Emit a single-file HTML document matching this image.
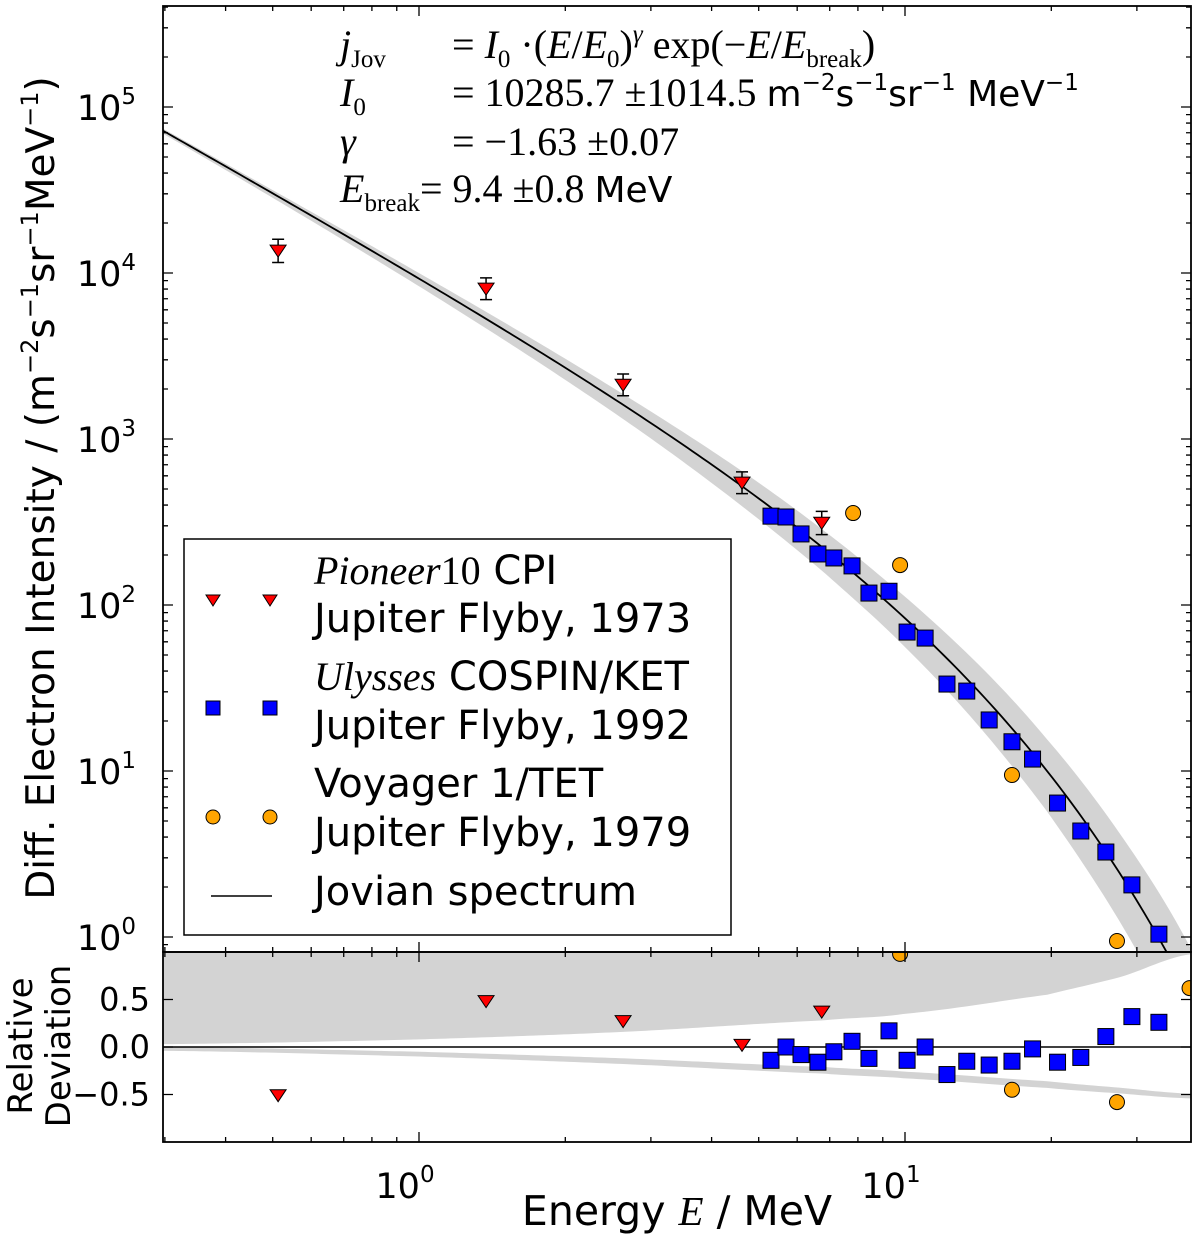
<!DOCTYPE html>
<html><head><meta charset="utf-8"><style>
body{margin:0;background:#fff;}
svg text{font-family:"DejaVu Sans","Liberation Sans",sans-serif;fill:#000;}
.m{font-family:"Liberation Serif","DejaVu Serif",serif;}
</style></head><body>
<svg id="chart" width="1200" height="1246" viewBox="0 0 1200 1246" xmlns="http://www.w3.org/2000/svg">
<defs>
<clipPath id="cm"><rect x="163" y="6" width="1028" height="946"/></clipPath>
<clipPath id="cb"><rect x="163" y="952" width="1028" height="190"/></clipPath>
</defs>
<g id="bandMain" clip-path="url(#cm)"></g>
<g id="bandRel" clip-path="url(#cb)"></g>
<g id="curveG" clip-path="url(#cm)"></g>
<g id="pointsMain" clip-path="url(#cm)"></g>
<g id="pointsRel" clip-path="url(#cb)"></g>
<g id="axes"></g>
<g font-size="40">
<text class="m" x="340" y="58"><tspan font-style="italic">j</tspan><tspan font-size="25" dy="9">Jov</tspan><tspan x="452" dy="-9">= </tspan><tspan font-style="italic">I</tspan><tspan font-size="25" dy="9">0</tspan><tspan dy="-9"> ·(</tspan><tspan font-style="italic">E</tspan>/<tspan font-style="italic">E</tspan><tspan font-size="25" dy="9">0</tspan><tspan dy="-9">)</tspan><tspan font-size="25" font-style="italic" dy="-16">γ</tspan><tspan dy="16"> exp(−</tspan><tspan font-style="italic">E</tspan>/<tspan font-style="italic">E</tspan><tspan font-size="25" dy="9">break</tspan><tspan dy="-9">)</tspan></text>
<text x="340" y="106"><tspan class="m" font-style="italic">I</tspan><tspan class="m" font-size="25" dy="9">0</tspan><tspan class="m" x="452" dy="-9">= 10285.7 ±1014.5 </tspan><tspan font-size="36">m</tspan><tspan font-size="23" dy="-16">−2</tspan><tspan font-size="36" dy="16">s</tspan><tspan font-size="23" dy="-16">−1</tspan><tspan font-size="36" dy="16">sr</tspan><tspan font-size="23" dy="-16">−1</tspan><tspan font-size="36" dy="16"> MeV</tspan><tspan font-size="23" dy="-16">−1</tspan></text>
<text class="m" x="340" y="155"><tspan font-style="italic">γ</tspan><tspan x="452">= −1.63 ±0.07</tspan></text>
<text x="340" y="202"><tspan class="m" font-style="italic">E</tspan><tspan class="m" font-size="25" dy="9">break</tspan><tspan class="m" dy="-9">= 9.4 ±0.8 </tspan><tspan font-size="36">MeV</tspan></text>
</g>
<g>
<rect x="184" y="539" width="547" height="396" fill="#fff" stroke="#000" stroke-width="1.5"/>
<g>
<path d="M206,595 L220,595 L213,606 Z M263,595 L277,595 L270,606 Z" fill="#f00" stroke="#000" stroke-width="1"/>
<text x="314" y="584" font-size="40"><tspan class="m" font-style="italic">Pioneer</tspan><tspan class="m">10</tspan> CPI</text>
<text x="314" y="632" font-size="40">Jupiter Flyby, 1973</text></g>
<g>
<rect x="206" y="701" width="14" height="14" fill="#00f" stroke="#000"/><rect x="263" y="701" width="14" height="14" fill="#00f" stroke="#000"/>
<text x="314" y="690" font-size="40"><tspan class="m" font-style="italic">Ulysses</tspan> COSPIN/KET</text>
<text x="314" y="739" font-size="40">Jupiter Flyby, 1992</text></g>
<g>
<circle cx="213" cy="817" r="7" fill="#ffa500" stroke="#000"/><circle cx="270" cy="817" r="7" fill="#ffa500" stroke="#000"/>
<text x="314" y="797" font-size="40">Voyager 1/TET</text>
<text x="314" y="846" font-size="40">Jupiter Flyby, 1979</text></g>
<g>
<line x1="211" y1="896" x2="272" y2="896" stroke="#000" stroke-width="1.5"/>
<text x="314" y="905" font-size="40">Jovian spectrum</text></g>
</g>
<text transform="translate(54,488) rotate(-90)" text-anchor="middle" font-size="39">Diff. Electron Intensity / (m<tspan font-size="24" dy="-16">−2</tspan><tspan dy="16">s</tspan><tspan font-size="24" dy="-16">−1</tspan><tspan dy="16">sr</tspan><tspan font-size="24" dy="-16">−1</tspan><tspan dy="16">MeV</tspan><tspan font-size="24" dy="-16">−1</tspan><tspan dy="16">)</tspan></text>
<text transform="translate(32,1046) rotate(-90)" text-anchor="middle" font-size="34">Relative</text>
<text transform="translate(70,1046) rotate(-90)" text-anchor="middle" font-size="34">Deviation</text>
<text x="677" y="1225" text-anchor="middle" font-size="41">Energy <tspan class="m" font-style="italic">E</tspan> / MeV</text>
</svg>
<script>
// ---- data ----
const I0 = 10285.7, gammaIdx = -1.63, Ebreak = 9.4;
const pioneerE = [0.513, 1.374, 2.63, 4.62, 6.74];
const pioneerJ = [13770, 8130, 2143, 551, 316];
const pioneerErr = [0.16, 0.15, 0.15, 0.15, 0.16];
const pioneerRel = [-0.5, 0.49, 0.28, 0.03, 0.38];
const ulyssesE = [5.30,5.69,6.11,6.62,7.14,7.78,8.43,9.27,10.1,11.0,12.2,13.4,14.9,16.6,18.3,20.6,23.0,25.9,29.3,33.3];
const ulyssesJ = [343,339,268,203,192,172,118,121,68.7,63.2,33.4,30.3,20.3,15.0,11.8,6.41,4.35,3.25,2.06,1.04];
const ulyssesRel = [-0.14,0,-0.08,-0.16,-0.05,0.06,-0.12,0.17,-0.14,0.0,-0.29,-0.15,-0.19,-0.15,-0.02,-0.16,-0.11,0.11,0.32,0.26];
const voyagerE = [7.82, 9.77, 16.6, 27.3, 38.5];
const voyagerJ = [358, 174, 9.46, 0.946, 0.55];
const voyagerRel = [2.0, 0.98, -0.45, -0.58, 0.62];
const bandE = [0.3, 1, 2.65, 6.8, 10, 19.6, 27.9, 38];
const bandUpper = [0.03, 0.08, 0.16, 0.28, 0.35, 0.55, 0.74, 0.97];
const bandLowerA = [-0.0, -0.05, -0.12, -0.21, -0.26, -0.36, -0.43, -0.49];
const bandLowerB = [-0.04, -0.10, -0.18, -0.28, -0.33, -0.43, -0.49, -0.54];
const xTicks = [1, 10];
const xTickLabels = ["0", "1"];
const yTicks = [1, 10, 100, 1000, 10000, 100000];
const yTickLabels = ["0","1","2","3","4","5"];
const relTicks = [0.5, 0.0, -0.5];
const relTickLabels = ["0.5", "0.0", "−0.5"];
// ---- scales ----
const XL=163, XR=1191, X0=419, XD=486;
const xs = e => X0 + XD*Math.log10(e);
const ys = v => 107 + 166*(5 - Math.log10(v));
const rs = r => 1047 - 95*r;
const model = e => I0*Math.pow(e, gammaIdx)*Math.exp(-e/Ebreak);
const NS="http://www.w3.org/2000/svg";
function mk(tag, attrs, parent){const el=document.createElementNS(NS,tag);for(const k in attrs)el.setAttribute(k,attrs[k]);parent.appendChild(el);return el;}
// smooth interpolation (monotone cubic-ish via Catmull-Rom in log E)
function interp(arr, e){const l=Math.log10(e);const n=bandE.length;let i=0;while(i<n-2&&l>Math.log10(bandE[i+1]))i++;
 const a=Math.log10(bandE[i]),b=Math.log10(bandE[i+1]);const t=(l-a)/(b-a);
 const p0=arr[Math.max(i-1,0)],p1=arr[i],p2=arr[i+1],p3=arr[Math.min(i+2,n-1)];
 const t2=t*t,t3=t2*t;return 0.5*((2*p1)+(-p0+p2)*t+(2*p0-5*p1+4*p2-p3)*t2+(-p0+3*p1-3*p2+p3)*t3);}
const Emin=Math.pow(10,(XL-X0)/XD), Emax=Math.pow(10,(XR-X0)/XD);
const grid=[];for(let i=0;i<=200;i++)grid.push(Emin*Math.pow(Emax/Emin,i/200));
// band main
let up=grid.map(e=>xs(e)+','+ys(model(e)*(1+interp(bandUpper,e))));
let lo=grid.slice().reverse().map(e=>xs(e)+','+ys(model(e)*(1+interp(bandLowerB,e))));
let p=mk('polygon',{points:up.concat(lo).join(' '),fill:'#d3d3d3'},document.getElementById('bandMain'));


// band rel
const br=document.getElementById('bandRel');
let r1=grid.map(e=>xs(e)+','+rs(interp(bandUpper,e)));
p=mk('polygon',{points:r1.concat([XR+','+900, XL+','+900]).join(' '),fill:'#d3d3d3'},br);


let r2=grid.map(e=>xs(e)+','+rs(interp(bandLowerA,e)));
let r3=grid.slice().reverse().map(e=>xs(e)+','+rs(interp(bandLowerB,e)));
p=mk('polygon',{points:r2.concat(r3).join(' '),fill:'#d3d3d3'},br);


// curve
p=mk('polyline',{points:grid.map(e=>xs(e)+','+ys(model(e))).join(' '),fill:'none',stroke:'#000','stroke-width':1.8},document.getElementById('curveG'));


const zl=mk('line',{x1:XL,y1:rs(0),x2:XR,y2:rs(0),stroke:'#000','stroke-width':1.5},document.getElementById('pointsRel'));


// markers
function tri(g,x,y,name){const s=8;const el=mk('path',{d:`M${x-s},${y-s*0.6} L${x+s},${y-s*0.6} L${x},${y+s*0.9} Z`,fill:'#f00',stroke:'#000','stroke-width':1},g);

}
function sq(g,x,y,name){const el=mk('rect',{x:x-8,y:y-8,width:16,height:16,fill:'#00f',stroke:'#000','stroke-width':1},g);

}
function circ(g,x,y,name){const el=mk('circle',{cx:x,cy:y,r:7.5,fill:'#ffa500',stroke:'#000','stroke-width':1},g);

}
const gm=document.getElementById('pointsMain'), gr=document.getElementById('pointsRel');
pioneerE.forEach((e,i)=>{const x=xs(e),y=ys(pioneerJ[i]);const y1=ys(pioneerJ[i]*(1+pioneerErr[i])),y2=ys(pioneerJ[i]*(1-pioneerErr[i]));
const eb=mk('path',{d:`M${x},${y1}V${y2}M${x-6},${y1}H${x+6}M${x-6},${y2}H${x+6}`,stroke:'#000','stroke-width':1.5,fill:'none'},gm);


tri(gm,x,y,'pioneer-point');tri(gr,x,rs(pioneerRel[i]),'pioneer-rel-point');});
ulyssesE.forEach((e,i)=>{sq(gm,xs(e),ys(ulyssesJ[i]),'ulysses-point');sq(gr,xs(e),rs(ulyssesRel[i]),'ulysses-rel-point');});
voyagerE.forEach((e,i)=>{circ(gm,xs(e),ys(voyagerJ[i]),'voyager-point');circ(gr,xs(e),rs(voyagerRel[i]),'voyager-rel-point');});
// axes
const ax=document.getElementById('axes');
mk('rect',{x:XL,y:6,width:XR-XL,height:946,fill:'none',stroke:'#000','stroke-width':1.8},ax);
mk('rect',{x:XL,y:952,width:XR-XL,height:190,fill:'none',stroke:'#000','stroke-width':1.8},ax);
let d='';
for(let dec=-1;dec<=1;dec++)for(let k=1;k<10;k++){const e=k*Math.pow(10,dec);const x=xs(e);if(x<XL||x>XR)continue;const L=k==1?10:5;
 d+=`M${x},6v${L}M${x},952v${-L}M${x},952v${L}M${x},1142v${-L}`;}
for(let dec=-1;dec<=5;dec++)for(let k=1;k<10;k++){const v=k*Math.pow(10,dec);const y=ys(v);if(y<6||y>952)continue;const L=k==1?10:5;
 d+=`M${XL},${y}h${L}M${XR},${y}h${-L}`;}
relTicks.forEach(r=>{const y=rs(r);d+=`M${XL},${y}h10M${XR},${y}h-10`;});
mk('path',{d:d,stroke:'#000','stroke-width':1.3,fill:'none'},ax);
xTicks.forEach((e,i)=>{const t=mk('text',{x:xs(e)-14,y:1198,'text-anchor':'middle','font-size':35},ax);t.textContent='10';


const s=mk('tspan',{'font-size':23,dy:-16},t);s.textContent=xTickLabels[i];});
yTicks.forEach((v,i)=>{const t=mk('text',{x:136,y:ys(v)+13,'text-anchor':'end','font-size':35},ax);t.textContent='10';


const s=mk('tspan',{'font-size':23,dy:-16},t);s.textContent=yTickLabels[i];});
relTicks.forEach((r,i)=>{const t=mk('text',{x:150,y:rs(r)+11,'text-anchor':'end','font-size':32},ax);t.textContent=relTickLabels[i];

});
</script>
</body></html>
